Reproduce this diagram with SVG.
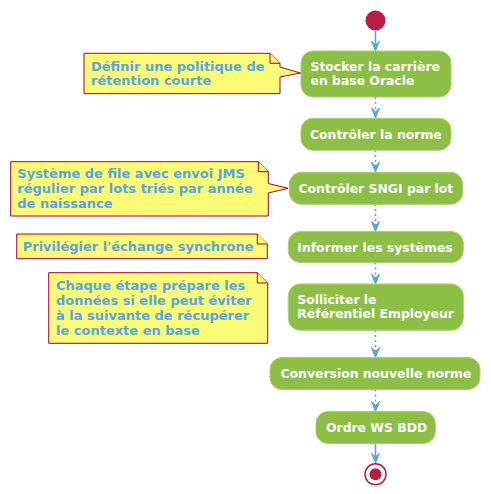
<svg xmlns="http://www.w3.org/2000/svg" width="491" height="494" viewBox="0 0 491 494">
<defs>
<style>
.node rect{fill:#8DBE45;stroke:#A9CF72;stroke-width:1}
.node text{font-family:"DejaVu Sans",sans-serif;font-weight:bold;font-size:12.4px;fill:#FFFFFF}
.note path{fill:#FBFB77;stroke:#A80036;stroke-width:1}
.note text{font-family:"DejaVu Sans",sans-serif;font-weight:bold;font-size:13px;fill:#5AA5DF}
.edge{stroke:#5AA2DC;stroke-width:1.5;fill:none}
.dot{stroke-dasharray:2 3}
.head{fill:#5AA2DC;stroke:#5AA2DC;stroke-width:1}
</style>
</defs>
<rect width="491" height="494" fill="#FFFFFF"/>

<g id="connectors">
<line class="edge" x1="375.5" y1="31" x2="375.5" y2="49"/>
<polygon class="head" points="371.5,41 375.5,51 379.5,41 375.5,45"/>
<line class="edge dot" x1="375.5" y1="97" x2="375.5" y2="116"/>
<polygon class="head" points="371.5,108 375.5,118 379.5,108 375.5,112"/>
<line class="edge dot" x1="375.5" y1="150" x2="375.5" y2="170"/>
<polygon class="head" points="371.5,162 375.5,172 379.5,162 375.5,166"/>
<line class="edge dot" x1="375.5" y1="204" x2="375.5" y2="229"/>
<polygon class="head" points="371.5,221.5 375.5,231.5 379.5,221.5 375.5,225.5"/>
<line class="edge dot" x1="375.5" y1="262.5" x2="375.5" y2="282"/>
<polygon class="head" points="371.5,274 375.5,284 379.5,274 375.5,278"/>
<line class="edge dot" x1="375.5" y1="330" x2="375.5" y2="355"/>
<polygon class="head" points="371.5,347.5 375.5,357.5 379.5,347.5 375.5,351.5"/>
<line class="edge dot" x1="375.5" y1="389.5" x2="375.5" y2="409"/>
<polygon class="head" points="371.5,401.5 375.5,411.5 379.5,401.5 375.5,405.5"/>
<line class="edge" x1="375.5" y1="443.5" x2="375.5" y2="461"/>
<polygon class="head" points="371.5,453 375.5,463 379.5,453 375.5,457"/>
</g>

<g id="start"><circle cx="375.5" cy="20.5" r="10" fill="#B41F42"/></g>

<g id="node1" class="node">
<rect x="301" y="51" width="150" height="46" rx="12" ry="12"/>
<text x="310.5" y="71">Stocker la carrière</text>
<text x="310.5" y="84.5">en base Oracle</text>
</g>
<g id="node2" class="node">
<rect x="301" y="118.3" width="150" height="32" rx="12" ry="12"/>
<text x="310" y="138.5">Contrôler la norme</text>
</g>
<g id="node3" class="node">
<rect x="289.3" y="172.3" width="173.4" height="32" rx="12" ry="12"/>
<text x="298.5" y="192.5">Contrôler SNGI par lot</text>
</g>
<g id="node4" class="node">
<rect x="288.3" y="231.5" width="175" height="31" rx="12" ry="12"/>
<text x="297.3" y="251.5">Informer les systèmes</text>
</g>
<g id="node5" class="node">
<rect x="288.3" y="284" width="175" height="46.3" rx="12" ry="12"/>
<text x="297.3" y="304">Solliciter le</text>
<text x="297.3" y="317.5">Référentiel Employeur</text>
</g>
<g id="node6" class="node">
<rect x="270" y="357.5" width="210" height="32" rx="12" ry="12"/>
<text x="280.5" y="377.5">Conversion nouvelle norme</text>
</g>
<g id="node7" class="node">
<rect x="316" y="411.5" width="119.3" height="32" rx="12" ry="12"/>
<text x="326" y="431.5">Ordre WS BDD</text>
</g>

<g id="end">
<circle cx="375.5" cy="474.3" r="10.5" fill="#FFFFFF" stroke="#B41F42" stroke-width="1.5"/>
<circle cx="375.5" cy="474.3" r="6" fill="#B41F42"/>
</g>

<g id="note1" class="note">
<path d="M84,53.3 L270,53.3 L280,63.3 L280,67 L300.5,73 L280,77 L280,93.7 L84,93.7 Z"/>
<path d="M270,53.3 L270,63.3 L280,63.3"/>
<text x="91" y="71">Définir une politique de</text>
<text x="91" y="85">rétention courte</text>
</g>
<g id="note2" class="note">
<path d="M10.7,161.7 L258.3,161.7 L268.3,171.7 L268.3,183.5 L288,188.3 L268.3,193 L268.3,216 L10.7,216 Z"/>
<path d="M258.3,161.7 L258.3,171.7 L268.3,171.7"/>
<text x="17.3" y="178.3">Système de file avec envoi JMS</text>
<text x="17.3" y="193.3">régulier par lots triés par année</text>
<text x="17.3" y="208.3">de naissance</text>
</g>
<g id="note3" class="note">
<path d="M16.7,234 L257.3,234 L267.3,244 L267.3,258.7 L16.7,258.7 Z"/>
<path d="M257.3,234 L257.3,244 L267.3,244"/>
<text x="22.7" y="251.3">Privilégier l'échange synchrone</text>
</g>
<g id="note4" class="note">
<path d="M48.7,272.7 L257.3,272.7 L267.7,283 L267.7,343.3 L48.7,343.3 Z"/>
<path d="M257.3,272.7 L257.3,283 L267.7,283"/>
<text x="56" y="290">Chaque étape prépare les</text>
<text x="56" y="305">données si elle peut éviter</text>
<text x="56" y="320">à la suivante de récupérer</text>
<text x="56" y="335">le contexte en base</text>
</g>
</svg>
